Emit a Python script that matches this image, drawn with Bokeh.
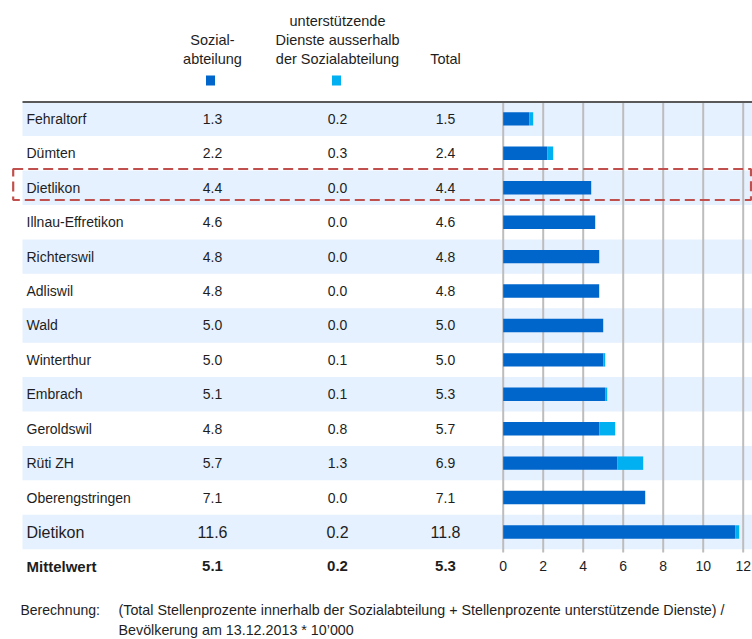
from bokeh.plotting import figure
from bokeh.models import Range1d
from bokeh.core.properties import value
from bokeh.embed import file_html
from bokeh.resources import INLINE

# ---------------- data ----------------
gemeinden = ["Fehraltorf", "Dümten", "Dietlikon", "Illnau-Effretikon", "Richterswil",
             "Adliswil", "Wald", "Winterthur", "Embrach", "Geroldswil", "Rüti ZH",
             "Oberengstringen", "Dietikon"]
sozial = [1.3, 2.2, 4.4, 4.6, 4.8, 4.8, 5.0, 5.0, 5.1, 4.8, 5.7, 7.1, 11.6]
dienste = [0.2, 0.3, 0.0, 0.0, 0.0, 0.0, 0.0, 0.1, 0.1, 0.8, 1.3, 0.0, 0.2]
total = [1.5, 2.4, 4.4, 4.6, 4.8, 4.8, 5.0, 5.0, 5.3, 5.7, 6.9, 7.1, 11.8]
mittel_label = "Mittelwert"
mittel = [5.1, 0.2, 5.3]
ticks = [0, 2, 4, 6, 8, 10, 12]
highlight = "Dietlikon"
col_headers = [["Sozial-", "abteilung"],
               ["unterstützende", "Dienste ausserhalb", "der Sozialabteilung"],
               ["Total"]]
foot_label = "Berechnung:"
foot_lines = ["(Total Stellenprozente innerhalb der Sozialabteilung + Stellenprozente unterstützende Dienste) /",
              "Bevölkerung am 13.12.2013 * 10’000"]

# ---------------- layout helpers ----------------
W, H = 752, 639
PX_PER_UNIT = 20.0
X0_PX = 502.7          # px of value 0
ROW0_PX = 118.4        # px of first row centre
ROW_PX = 34.425        # px per row


def X(ref_x):
    return (ref_x - X0_PX) / PX_PER_UNIT


def Y(ref_y):
    return (ref_y - ROW0_PX) / ROW_PX


FONT = value("Liberation Sans")
DARK = "#0066CC"
LIGHT = "#00B0F0"
BAND = "#E5F1FE"
TXT = "#1E1E1E"

p = figure(width=W, height=H, output_backend="svg", toolbar_location=None,
           x_range=Range1d(-X0_PX / PX_PER_UNIT, (W - X0_PX) / PX_PER_UNIT),
           y_range=Range1d((H - ROW0_PX) / ROW_PX, -ROW0_PX / ROW_PX),
           min_border=0, min_border_left=0, min_border_right=0,
           min_border_top=0, min_border_bottom=0)
p.axis.visible = False
p.grid.visible = False
p.outline_line_color = None
p.background_fill_color = "white"

n = len(gemeinden)
rows = list(range(n))

# bands on alternate rows
band_rows = [i for i in rows if i % 2 == 0]
p.quad(left=X(22), right=X(770), top=[i - 0.5 for i in band_rows],
       bottom=[i + 0.5 for i in band_rows], fill_color=BAND, line_color=None)

# top rule
p.segment(x0=X(22), x1=X(770), y0=Y(101.5), y1=Y(101.5), line_color="#595959", line_width=2)

# vertical gridlines
p.segment(x0=ticks, x1=ticks, y0=Y(102.5), y1=Y(552), line_color="#BDBDBD", line_width=2)

# stacked bars
stack_top = [a + b for a, b in zip(sozial, dienste)]
p.hbar(y=rows, left=0, right=sozial, height=0.39, fill_color=DARK, line_color=None)
p.hbar(y=rows, left=sozial, right=stack_top, height=0.39, fill_color=LIGHT, line_color=None)

# tick labels
p.text(x=ticks, y=[n] * len(ticks), text=[str(t) for t in ticks], text_font=FONT,
       text_font_size="14px", text_align="center", text_baseline="middle", text_color=TXT)

# table columns
col_x = [X(212), X(337), X(445)]
small = rows[:-1]
p.text(x=X(26), y=small, text=gemeinden[:-1], text_font=FONT, text_font_size="14px",
       text_baseline="middle", text_color=TXT)
p.text(x=X(26), y=[rows[-1]], text=[gemeinden[-1]], text_font=FONT, text_font_size="16px",
       text_baseline="middle", text_color=TXT)
for cx, vals in zip(col_x, [sozial, dienste, total]):
    p.text(x=cx, y=small, text=[f"{v:.1f}" for v in vals[:-1]], text_font=FONT,
           text_font_size="14px", text_align="center", text_baseline="middle", text_color=TXT)
    p.text(x=cx, y=[rows[-1]], text=[f"{vals[-1]:.1f}"], text_font=FONT,
           text_font_size="16px", text_align="center", text_baseline="middle", text_color=TXT)

# Mittelwert row
p.text(x=X(26), y=[n], text=[mittel_label], text_font=FONT, text_font_size="15px",
       text_font_style="bold", text_baseline="middle", text_color=TXT)
p.text(x=col_x, y=[n] * 3, text=[f"{v:.1f}" for v in mittel], text_font=FONT,
       text_font_size="15px", text_font_style="bold", text_align="center",
       text_baseline="middle", text_color=TXT)

# highlight box
hi = gemeinden.index(highlight)
p.quad(left=X(12.7), right=X(750.5), top=Y(168.5), bottom=Y(199.5), fill_color=None,
       line_color="#C0504D", line_width=2.2, line_dash="10 5")

# column headers
header_y = [Y(20), Y(39.5), Y(58)]
for cx, lines in zip(col_x, col_headers):
    ys = header_y[3 - len(lines):]
    p.text(x=cx, y=ys, text=lines, text_font=FONT, text_font_size="14.5px",
           text_align="center", text_baseline="middle", text_color=TXT)

# legend squares
p.rect(x=[X(210), X(336)], y=Y(80), width=9, height=10, width_units="screen",
       height_units="screen", fill_color=[DARK, LIGHT], line_color=None)

# footnote
p.text(x=X(20), y=Y(609), text=[foot_label], text_font=FONT, text_font_size="14px",
       text_baseline="middle", text_color=TXT)
p.text(x=X(118), y=[Y(609), Y(629)], text=foot_lines, text_font=FONT, text_font_size="14.3px",
       text_baseline="middle", text_color=TXT)

open("out.html", "w").write(file_html(p, INLINE))
